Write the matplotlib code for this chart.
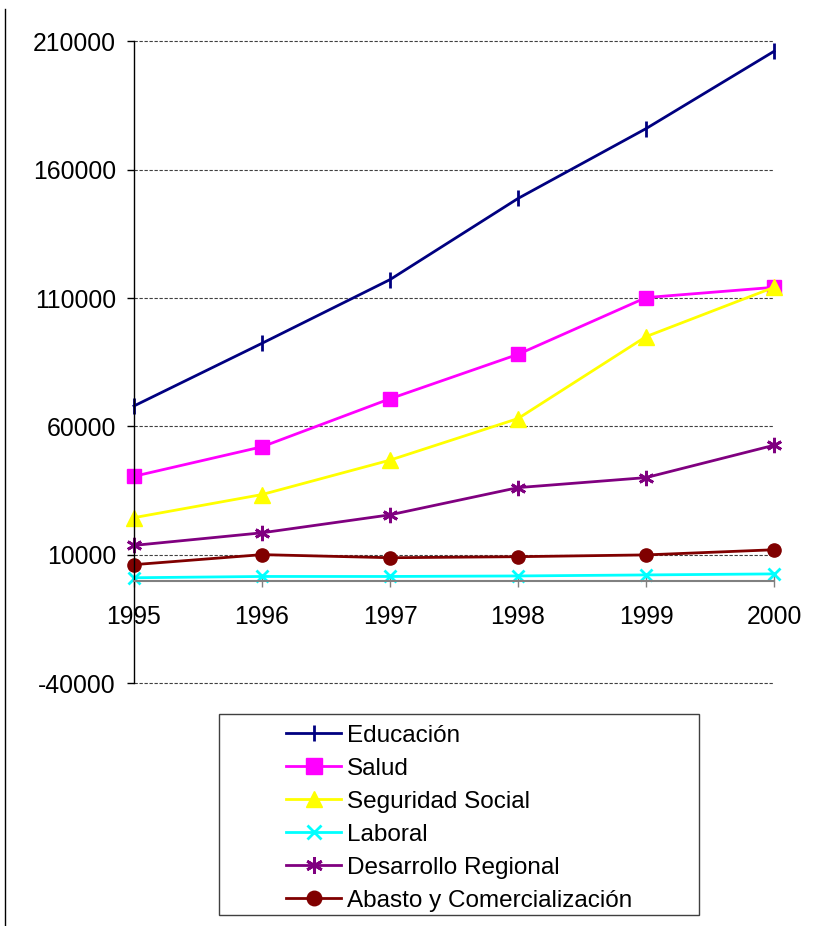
import matplotlib
matplotlib.use('Agg')
import matplotlib.pyplot as plt
from matplotlib.lines import Line2D
from matplotlib.patches import Rectangle

plt.rcParams['font.family'] = ['Liberation Sans', 'DejaVu Sans']
plt.rcParams['axes.unicode_minus'] = False

# data
years = [1995, 1996, 1997, 1998, 1999, 2000]
educacion = [68000, 92400, 117200, 148800, 176000, 206100]
salud = [40600, 52100, 70800, 88100, 110200, 114200]
seguridad = [24500, 33500, 46900, 63100, 95000, 114200]
laboral = [1100, 1600, 1600, 1800, 2200, 2600]
desarrollo = [13700, 18600, 25600, 36200, 40100, 52700]
abasto = [6200, 10100, 8900, 9300, 10000, 12000]
yticks = [-40000, 10000, 60000, 110000, 160000, 210000]

series = [
    ('Educación', educacion, '#000080', '|', 11),
    ('Salud', salud, '#FF00FF', 's', 10),
    ('Seguridad Social', seguridad, '#FFFF00', '^', 11),
    ('Laboral', laboral, '#00FFFF', 'x', 9),
    ('Desarrollo Regional', desarrollo, '#800080', (6, 2, 0), 11),
    ('Abasto y Comercialización', abasto, '#800000', 'o', 9.5),
]

fig = plt.figure(figsize=(8.21, 9.26), dpi=100)
ax = fig.add_axes([0.1632, 0.2621, 0.7796, 0.6933])

for name, vals, col, mk, ms in series:
    filled = mk in ('s', '^', 'o')
    ax.plot(years, vals, color=col, lw=2, marker=mk, markersize=ms,
            markerfacecolor=col, markeredgecolor=col,
            markeredgewidth=1 if filled else 2, label=name, clip_on=False)

ax.set_xlim(1995, 2000)
ax.set_ylim(-40000, 210000)
ax.set_yticks(yticks)
ax.set_xticks(years)
for yv in yticks:
    ax.axhline(yv, linestyle=(0, (3, 1.5)), color='#404040', lw=0.8,
               zorder=0.5, clip_on=False)

for s in ('top', 'right'):
    ax.spines[s].set_visible(False)
ax.spines['left'].set_color('black')
ax.spines['left'].set_linewidth(1)
ax.spines['bottom'].set_position(('data', 0))
ax.spines['bottom'].set_color('#808080')
ax.spines['bottom'].set_linewidth(1.5)

ax.tick_params(axis='y', direction='out', length=5, width=1, pad=8,
               labelsize=17.8)
ax.tick_params(axis='x', direction='inout', length=9, width=1,
               color='#808080', pad=13, labelsize=17.8)

# legend
fig.legend(loc='upper left', bbox_to_anchor=(0.3484, 0.2175), frameon=False,
           fontsize=17.5, handlelength=2.26, handletextpad=0.25,
           labelspacing=0.455, borderaxespad=0, borderpad=0,
           markerscale=1.1)
fig.patches.append(Rectangle((0.2668, 0.0119), 0.5846, 0.2171,
                             transform=fig.transFigure, fill=False,
                             edgecolor='#404040', lw=1))

# left frame line
fig.add_artist(Line2D([0.0055, 0.0055], [0.0, 0.99], color='black',
                      lw=1, transform=fig.transFigure))

fig.savefig('out.png', dpi=100)
